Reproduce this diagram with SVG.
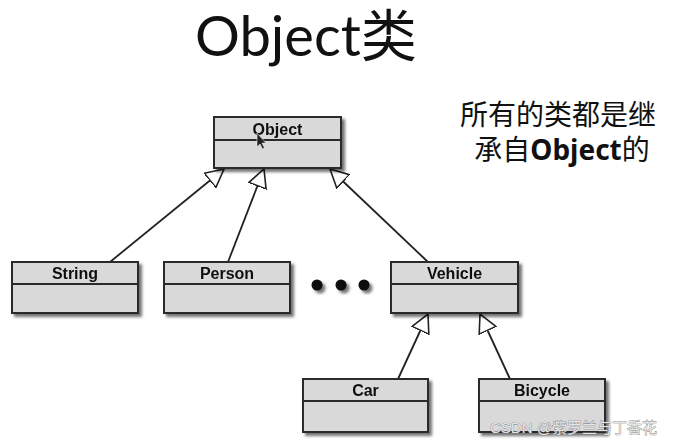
<svg xmlns="http://www.w3.org/2000/svg" width="677" height="444" viewBox="0 0 677 444">
<defs>
<filter id="sh" x="-20%" y="-20%" width="150%" height="160%">
<feDropShadow dx="3" dy="3" stdDeviation="1.8" flood-color="#000" flood-opacity="0.55"/>
</filter>
<marker id="tri" viewBox="0 0 19 20" refX="18.5" refY="10" markerWidth="19" markerHeight="20" markerUnits="userSpaceOnUse" orient="auto">
<path d="M0.5,0.8 L18.5,10 L0.5,19.2 Z" fill="#fff" stroke="#222" stroke-width="1.6" stroke-linejoin="miter"/>
</marker>
</defs>
<style>
.box rect{fill:#d9d9d9;stroke:#2a2a2a;stroke-width:2}
.box line{stroke:#2a2a2a;stroke-width:2}
.lbl{font-family:"Liberation Sans",Arial,sans-serif;font-weight:bold;font-size:16px;fill:#111;text-anchor:middle}
.conn line{stroke:#222;stroke-width:1.8;fill:none;marker-end:url(#tri)}
.cn{font-family:"Noto Sans","Noto Sans CJK SC",sans-serif;fill:#111}
</style>
<rect width="677" height="444" fill="#fff"/>
<text x="306" y="56" font-family="Lato,'Noto Sans CJK SC',sans-serif" font-size="56" fill="#111" text-anchor="middle" textLength="222" lengthAdjust="spacingAndGlyphs">Object类</text>
<g class="cn" font-size="28" text-anchor="middle">
<text x="558" y="125">所有的类都是继</text>
<text x="562" y="160">承自<tspan font-weight="bold">Object</tspan>的</text>
</g>
<g class="conn">
<line x1="110" y1="262" x2="224" y2="169"/>
<line x1="228" y1="262" x2="264" y2="169"/>
<line x1="428" y1="262" x2="330" y2="169"/>
<line x1="398" y1="379" x2="428" y2="314"/>
<line x1="510" y1="379" x2="480" y2="314"/>
</g>
<g id="object" class="box" filter="url(#sh)">
<rect x="214" y="117" width="127" height="51"/>
<line x1="214" y1="140" x2="341" y2="140"/>
<text class="lbl" x="277.5" y="135">Object</text>
</g>
<path d="M257,133 L257,147 L260,144 L262.5,149 L264.5,148 L262,143 L266,143 Z" fill="#222" stroke="#eee" stroke-width="0.6"/>
<g id="string" class="box" filter="url(#sh)">
<rect x="12" y="262" width="126" height="51"/>
<line x1="12" y1="284" x2="138" y2="284"/>
<text class="lbl" x="75" y="279">String</text>
</g>
<g id="person" class="box" filter="url(#sh)">
<rect x="164" y="262" width="126" height="51"/>
<line x1="164" y1="284" x2="290" y2="284"/>
<text class="lbl" x="227" y="279">Person</text>
</g>
<g id="dots" fill="#111" filter="url(#sh)">
<circle cx="317" cy="285" r="5.5"/>
<circle cx="341" cy="285" r="5.5"/>
<circle cx="364" cy="285" r="5.5"/>
</g>
<g id="vehicle" class="box" filter="url(#sh)">
<rect x="391" y="262" width="127" height="51"/>
<line x1="391" y1="284" x2="518" y2="284"/>
<text class="lbl" x="454.5" y="279">Vehicle</text>
</g>
<g id="car" class="box" filter="url(#sh)">
<rect x="303" y="379" width="125" height="53"/>
<line x1="303" y1="401" x2="428" y2="401"/>
<text class="lbl" x="365.5" y="396">Car</text>
</g>
<g id="bicycle" class="box" filter="url(#sh)">
<rect x="479" y="379" width="126" height="53"/>
<line x1="479" y1="401" x2="605" y2="401"/>
<text class="lbl" x="542" y="396">Bicycle</text>
</g>
<text x="490" y="433" font-family="Liberation Sans,'Noto Sans CJK SC',sans-serif" font-size="15" fill="#e6e6e6" stroke="#7a7a7a" stroke-width="0.7" paint-order="stroke">CSDN @紫罗兰与丁香花</text>
</svg>
